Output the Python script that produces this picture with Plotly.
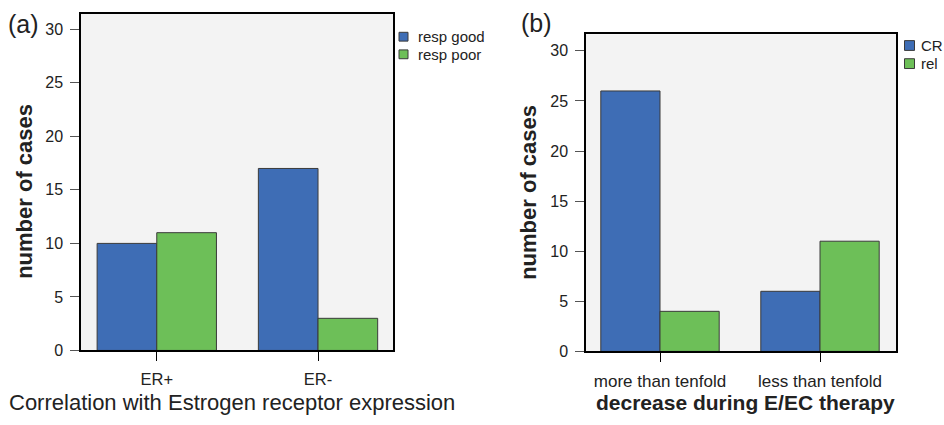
import plotly.graph_objects as go

# ---- data ----
cats_a = ["ER+", "ER-"]
resp_good = [10, 17]
resp_poor = [11, 3]

cats_b = ["more than tenfold", "less than tenfold"]
cr_vals = [26, 6]
rel_vals = [4, 11]

y_ticks = [0, 5, 10, 15, 20, 25, 30]

BLUE = "#3e6db5"
GREEN = "#6dbf58"
EDGE = "#3a3a3a"
FONT = "Liberation Sans, Arial, sans-serif"
W, H = 944, 425

fig = go.Figure()

def bar(x, y, color, name, xa, ya):
    return go.Bar(x=x, y=y, name=name, marker=dict(color=color, line=dict(color=EDGE, width=1)),
                  xaxis=xa, yaxis=ya, showlegend=False)

fig.add_trace(bar(cats_a, resp_good, BLUE, "resp good", "x", "y"))
fig.add_trace(bar(cats_a, resp_poor, GREEN, "resp poor", "x", "y"))
fig.add_trace(bar(cats_b, cr_vals, BLUE, "CR", "x2", "y2"))
fig.add_trace(bar(cats_b, rel_vals, GREEN, "rel", "x2", "y2"))

def px_x(p):
    return p / W

def px_y(p):
    return 1 - p / H

def axis_common(fs):
    return dict(showline=True, linecolor="black", linewidth=1.5, mirror=True,
                ticks="outside", ticklen=9, tickwidth=1, showgrid=False, zeroline=False,
                tickfont=dict(family=FONT, size=fs, color="#222"))

fig.update_layout(
    width=W, height=H, autosize=False,
    margin=dict(l=0, r=0, t=0, b=0),
    paper_bgcolor="white", plot_bgcolor="#f3f3f3",
    barmode="group", bargap=0.26, bargroupgap=0,
    font=dict(family=FONT, color="#222"),
    showlegend=False,
    xaxis=dict(domain=[px_x(81), px_x(393)], range=[-0.47, 1.465], tickcolor="black",
               ticklabelstandoff=4, **axis_common(16.5)),
    yaxis=dict(domain=[px_y(358), px_y(14)], range=[0, 31.46], tickvals=y_ticks, tickcolor="#555",
               ticklabelstandoff=4, **axis_common(16)),
    xaxis2=dict(domain=[px_x(586), px_x(896)], range=[-0.4625, 1.475], tickcolor="black",
                ticklabelstandoff=4, anchor="y2", **axis_common(17)),
    yaxis2=dict(domain=[px_y(359), px_y(35)], range=[0, 31.66], tickvals=y_ticks, tickcolor="#555",
                ticklabelstandoff=4, anchor="x2", **axis_common(16)),
)

ann = [
    dict(text="(a)", x=px_x(6), y=px_y(25), xanchor="left", yanchor="middle",
         font=dict(size=25, family=FONT, color="#222")),
    dict(text="(b)", x=px_x(519), y=px_y(24), xanchor="left", yanchor="middle",
         font=dict(size=25, family=FONT, color="#222")),
    dict(text="<b>number of cases</b>", x=px_x(25), y=px_y(196), textangle=-90,
         xanchor="center", yanchor="middle", font=dict(size=22, family=FONT, color="#222")),
    dict(text="<b>number of cases</b>", x=px_x(529), y=px_y(197), textangle=-90,
         xanchor="center", yanchor="middle", font=dict(size=22, family=FONT, color="#222")),
    dict(text="Correlation with Estrogen receptor expression", x=px_x(232), y=px_y(411),
         xanchor="center", yanchor="middle", font=dict(size=22, family=FONT, color="#222")),
    dict(text="<b>decrease during E/EC therapy</b>", x=px_x(745), y=px_y(411),
         xanchor="center", yanchor="middle", font=dict(size=21, family=FONT, color="#222")),
]

# manual legends (swatch + label), positions in pixels
legend_items = [
    # (label, color, swatch centre x, centre y, swatch size, text x, font size)
    ("resp good", BLUE, 403.5, 37.5, 9, 416, 15),
    ("resp poor", GREEN, 403.5, 55.5, 9, 416, 15),
    ("CR", BLUE, 909.5, 46.5, 10, 919, 15),
    ("rel", GREEN, 909.5, 65, 10, 919, 15),
]
shapes = []
for label, col, cx, cy, s, tx, fs in legend_items:
    shapes.append(dict(type="rect", xref="paper", yref="paper",
                       x0=px_x(cx - s / 2), x1=px_x(cx + s / 2),
                       y0=px_y(cy + s / 2), y1=px_y(cy - s / 2),
                       fillcolor=col, line=dict(color=EDGE, width=1)))
    ann.append(dict(text=label, x=px_x(tx), y=px_y(cy), xanchor="left", yanchor="middle",
                    font=dict(size=fs, family=FONT, color="#222")))

for a in ann:
    a.update(xref="paper", yref="paper", showarrow=False)
fig.update_layout(annotations=ann, shapes=shapes)

fig.write_html("out.html", config={"displayModeBar": False},
               post_script="document.body.style.margin='0';document.body.style.overflow='hidden';")
